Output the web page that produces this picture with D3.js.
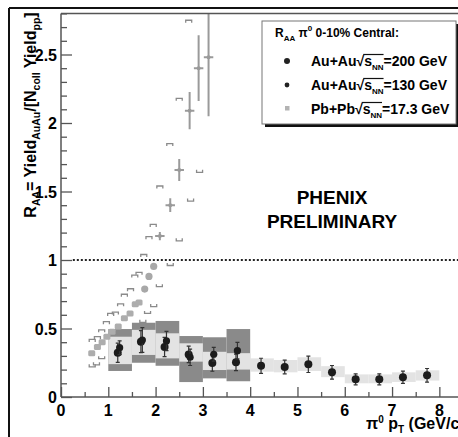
<!DOCTYPE html>
<html>
<head>
<meta charset="utf-8">
<script src="https://cdn.jsdelivr.net/npm/d3@7"></script>
<style>
  body { margin: 0; background: #fff; }
  text { font-family: "Liberation Sans", Arial, sans-serif; font-weight: bold; }
</style>
</head>
<body>
<div id="chart"></div>
<script>
// data
var auau200X = [1.20, 1.69, 2.19, 2.70, 3.20, 3.70, 4.23, 4.73, 5.23, 5.73, 6.23, 6.73, 7.23, 7.74];
var auau200Y = [0.323, 0.404, 0.365, 0.311, 0.248, 0.253, 0.228, 0.219, 0.239, 0.180, 0.129, 0.129, 0.144, 0.158];
var auau200Err = [0.07, 0.08, 0.07, 0.06, 0.06, 0.06, 0.055, 0.05, 0.06, 0.05, 0.04, 0.04, 0.045, 0.05];
var auau200SysLo = [0.24, 0.307, 0.282, 0.258, 0.197, 0.20, 0.185, 0.18, 0.19, 0.145, 0.10, 0.10, 0.11, 0.12];
var auau200SysHi = [0.44, 0.49, 0.465, 0.392, 0.33, 0.32, 0.282, 0.27, 0.29, 0.225, 0.165, 0.165, 0.18, 0.195];

var auau130X = [1.24, 1.72, 2.23, 2.73, 3.23, 3.73];
var auau130Y = [0.360, 0.416, 0.409, 0.290, 0.312, 0.338];
var auau130Err = [0.05, 0.09, 0.07, 0.06, 0.05, 0.06];
var auau130SysLo = [0.19, 0.25, 0.228, 0.109, 0.136, 0.115];
var auau130SysHi = [0.496, 0.542, 0.555, 0.445, 0.436, 0.496];

var binEdges = [1, 1.5, 2, 2.5, 3, 3.5, 4, 4.5, 5, 5.5, 6, 6.5, 7, 7.5, 8];

var pbSquareX = [0.65, 0.77, 0.87, 0.97, 1.08, 1.21, 1.34, 1.46, 1.57, 1.65];
var pbSquareY = [0.32, 0.365, 0.40, 0.44, 0.477, 0.515, 0.574, 0.61, 0.677, 0.69];
var pbCircleX = [1.77, 1.86, 1.96];
var pbCircleY = [0.788, 0.88, 0.953];
var pbCrossX = [2.09, 2.31, 2.50, 2.72, 2.91, 3.12];
var pbCrossY = [1.175, 1.40, 1.657, 2.09, 2.40, 2.48];
var pbCrossErr = [0.03, 0.05, 0.08, 0.136, 0.24, 0.43];

var bracketUpX = [0.66, 0.77, 0.86, 0.96, 1.05, 1.15, 1.26, 1.34, 1.47, 1.56, 1.65, 1.75, 1.86, 1.95, 2.09, 2.30, 2.50, 2.70];
var bracketUpY = [0.42, 0.44, 0.49, 0.55, 0.61, 0.62, 0.68, 0.75, 0.79, 0.89, 0.91, 1.04, 1.17, 1.26, 1.54, 1.85, 2.18, 2.75];
var bracketLoX = [0.66, 0.75, 0.86, 1.73, 1.83, 1.96, 2.08, 2.31, 2.50, 2.74, 2.93];
var bracketLoY = [0.22, 0.235, 0.28, 0.545, 0.61, 0.66, 0.805, 0.96, 1.14, 1.43, 1.64];

var yMajor = [0, 0.5, 1, 1.5, 2, 2.5];
var xMajor = [0, 1, 2, 3, 4, 5, 6, 7, 8];

var svgWidth = 458, svgHeight = 437;

var svg = d3.select("#chart")
  .append("svg")
  .attr("width", svgWidth)
  .attr("height", svgHeight);

var x = d3.scaleLinear().domain([0, 8.5]).range([61, 463]);
var y = d3.scaleLinear().domain([0, 2.8]).range([397, 13.4]);

// outer picture border
svg.append("line").attr("x1", 9).attr("x2", 458).attr("y1", 8).attr("y2", 8)
  .attr("stroke", "#111").attr("stroke-width", 2);
svg.append("line").attr("x1", 9).attr("x2", 9).attr("y1", 8).attr("y2", 437)
  .attr("stroke", "#111").attr("stroke-width", 2);

svg.append("clipPath").attr("id", "plotclip")
  .append("rect").attr("x", 61).attr("y", 13.4).attr("width", 400).attr("height", 384);

var plot = svg.append("g").attr("clip-path", "url(#plotclip)");

// systematic boxes, 130 GeV dark then 200 GeV light
plot.selectAll(".sys130")
  .data(auau130Y)
  .enter()
  .append("rect")
  .attr("x", (d, i) => x(binEdges[i]))
  .attr("width", (d, i) => x(binEdges[i + 1]) - x(binEdges[i]))
  .attr("y", (d, i) => y(auau130SysHi[i]))
  .attr("height", (d, i) => y(auau130SysLo[i]) - y(auau130SysHi[i]))
  .attr("fill", "#8a8a8a");

plot.selectAll(".sys200")
  .data(auau200Y)
  .enter()
  .append("rect")
  .attr("x", (d, i) => x(binEdges[i]))
  .attr("width", (d, i) => x(binEdges[i + 1]) - x(binEdges[i]))
  .attr("y", (d, i) => y(auau200SysHi[i]))
  .attr("height", (d, i) => y(auau200SysLo[i]) - y(auau200SysHi[i]))
  .attr("fill", "#e3e3e3");

// dotted line at 1
plot.append("line")
  .attr("x1", x(0.25)).attr("x2", x(8.5))
  .attr("y1", y(1)).attr("y2", y(1))
  .attr("stroke", "#222").attr("stroke-width", 2.2)
  .attr("stroke-dasharray", "2,2");

// Pb+Pb brackets
plot.selectAll(".bup")
  .data(bracketUpX)
  .enter()
  .append("path")
  .attr("d", (d, i) => `M${x(d) - 3},${y(bracketUpY[i]) + 2.5}V${y(bracketUpY[i])}H${x(d) + 3}V${y(bracketUpY[i]) + 2.5}`)
  .attr("fill", "none").attr("stroke", "#8a8a8a").attr("stroke-width", 1.3);

plot.selectAll(".blo")
  .data(bracketLoX)
  .enter()
  .append("path")
  .attr("d", (d, i) => `M${x(d) - 3},${y(bracketLoY[i]) - 2.5}V${y(bracketLoY[i])}H${x(d) + 3}V${y(bracketLoY[i]) - 2.5}`)
  .attr("fill", "none").attr("stroke", "#8a8a8a").attr("stroke-width", 1.3);

// Pb+Pb points
plot.selectAll(".pbsq")
  .data(pbSquareX)
  .enter()
  .append("rect")
  .attr("x", d => x(d) - 3.5)
  .attr("y", (d, i) => y(pbSquareY[i]) - 3)
  .attr("width", 7).attr("height", 6).attr("rx", 1.5)
  .attr("fill", "#adadad");

plot.selectAll(".pbci")
  .data(pbCircleX)
  .enter()
  .append("circle")
  .attr("cx", d => x(d))
  .attr("cy", (d, i) => y(pbCircleY[i]))
  .attr("r", 3.6)
  .attr("fill", "#a8a8a8");

var crosses = plot.selectAll(".pbcross")
  .data(pbCrossX)
  .enter()
  .append("g")
  .attr("stroke", "#9a9a9a").attr("stroke-width", 2);
crosses.append("line")
  .attr("x1", d => x(d)).attr("x2", d => x(d))
  .attr("y1", (d, i) => y(pbCrossY[i] + pbCrossErr[i]))
  .attr("y2", (d, i) => y(pbCrossY[i] - pbCrossErr[i]));
crosses.append("line")
  .attr("x1", d => x(d - 0.1)).attr("x2", d => x(d + 0.1))
  .attr("y1", (d, i) => y(pbCrossY[i]))
  .attr("y2", (d, i) => y(pbCrossY[i]));
crosses.append("circle")
  .attr("cx", d => x(d))
  .attr("cy", (d, i) => y(pbCrossY[i]))
  .attr("r", 2).attr("fill", "#9a9a9a").attr("stroke", "none");

// Au+Au points with error bars
function drawPoints(xs, ys, errs, r) {
  var g = plot.append("g");
  var pts = g.selectAll("g")
    .data(xs)
    .enter()
    .append("g")
    .attr("stroke", "#333").attr("stroke-width", 1.2);
  pts.append("line")
    .attr("x1", d => x(d)).attr("x2", d => x(d))
    .attr("y1", (d, i) => y(ys[i] + errs[i]))
    .attr("y2", (d, i) => y(ys[i] - errs[i]));
  pts.append("line")
    .attr("x1", d => x(d) - 2).attr("x2", d => x(d) + 2)
    .attr("y1", (d, i) => y(ys[i] + errs[i]))
    .attr("y2", (d, i) => y(ys[i] + errs[i]));
  pts.append("line")
    .attr("x1", d => x(d) - 2).attr("x2", d => x(d) + 2)
    .attr("y1", (d, i) => y(ys[i] - errs[i]))
    .attr("y2", (d, i) => y(ys[i] - errs[i]));
  pts.append("circle")
    .attr("cx", d => x(d))
    .attr("cy", (d, i) => y(ys[i]))
    .attr("r", r)
    .attr("fill", "#1c1c1c").attr("stroke", "none");
}
drawPoints(auau200X, auau200Y, auau200Err, 4);
drawPoints(auau130X, auau130Y, auau130Err, 3.6);

// axes, ticks inside
var yAxis = d3.axisRight(y)
  .tickValues(d3.range(0, 2.81, 0.1))
  .tickSize(6)
  .tickFormat("");
var yG = svg.append("g").attr("transform", "translate(61,0)").call(yAxis);
yG.selectAll(".tick line")
  .attr("x2", d => yMajor.some(m => Math.abs(m - d) < 1e-6) ? 11 : 6);

var xAxis = d3.axisTop(x)
  .tickValues(d3.range(0, 8.51, 0.5))
  .tickSize(5)
  .tickFormat("");
var xG = svg.append("g").attr("transform", "translate(0,397)").call(xAxis);
xG.selectAll(".tick line")
  .attr("y2", d => xMajor.indexOf(d) >= 0 ? -10 : -5);

svg.selectAll(".domain").remove();
svg.selectAll(".tick line").attr("stroke", "#555").attr("stroke-width", 1.3);

svg.append("line").attr("x1", 61).attr("x2", 61).attr("y1", 13.4).attr("y2", 397)
  .attr("stroke", "#555").attr("stroke-width", 1.5);
svg.append("line").attr("x1", 61).attr("x2", 458).attr("y1", 397).attr("y2", 397)
  .attr("stroke", "#555").attr("stroke-width", 1.5);
svg.append("line").attr("x1", 61).attr("x2", 458).attr("y1", 13.4).attr("y2", 13.4)
  .attr("stroke", "#555").attr("stroke-width", 1.5);

// tick labels
svg.selectAll(".ylab")
  .data(yMajor)
  .enter()
  .append("text")
  .attr("x", 57)
  .attr("y", d => y(d) + 6)
  .attr("text-anchor", "end")
  .attr("font-size", 16)
  .text(d => d3.format("~g")(d));

svg.selectAll(".xlab")
  .data(xMajor)
  .enter()
  .append("text")
  .attr("x", d => x(d))
  .attr("y", 416)
  .attr("text-anchor", "middle")
  .attr("font-size", 16)
  .text(d => d);

function seq(t, parts) {
  var shift = 0;
  parts.forEach(function(p) {
    var want = p[1] === 1 ? 4 : p[1] === -1 ? -6 : 0;
    t.append("tspan")
      .attr("font-size", p[1] === 0 ? null : (p[2] || 11))
      .attr("dy", want - shift)
      .text(p[0]);
    shift = want;
  });
}

// axis titles
var yTitle = svg.append("text")
  .attr("transform", "translate(36,115) rotate(-90)")
  .attr("text-anchor", "middle")
  .attr("font-size", 16);
seq(yTitle, [["R", 0], ["AA", 1, 10.5], ["= Yield", 0], ["AuAu", 1, 10.5], ["/[N", 0], ["coll", 1, 10.5], [" Yield", 0], ["pp", 1, 10.5], ["]", 0]]);

var xTitle = svg.append("text")
  .attr("x", 366)
  .attr("y", 429)
  .attr("font-size", 16);
seq(xTitle, [["\u03c0", 0], ["0", -1, 10], [" p", 0], ["T", 1, 10], [" (GeV/c)", 0]]);

// PHENIX label
svg.append("text").attr("x", 332).attr("y", 204).attr("text-anchor", "middle")
  .attr("font-size", 19).text("PHENIX");
svg.append("text").attr("x", 332).attr("y", 228).attr("text-anchor", "middle")
  .attr("font-size", 19).text("PRELIMINARY");

// legend
var legendLabels = ["=200 GeV", "=130 GeV", "=17.3 GeV"];
var legendSystems = ["Au+Au", "Au+Au", "Pb+Pb"];
var legend = svg.append("g");
legend.append("rect").attr("x", 265).attr("y", 24).attr("width", 196).attr("height", 103)
  .attr("fill", "#111");
legend.append("rect").attr("x", 262).attr("y", 21).attr("width", 194).attr("height", 103)
  .attr("fill", "#fff").attr("stroke", "#777").attr("stroke-width", 1);

var head = legend.append("text").attr("x", 275).attr("y", 37).attr("font-size", 12);
seq(head, [["R", 0], ["AA", 1, 8], [" \u03c0", 0], ["0", -1, 8], [" 0-10% Central:", 0]]);

legend.append("circle").attr("cx", 287).attr("cy", 61).attr("r", 3).attr("fill", "#222");
legend.append("circle").attr("cx", 287).attr("cy", 85).attr("r", 2.4).attr("fill", "#222");
legend.append("rect").attr("x", 285).attr("y", 106).attr("width", 4.5).attr("height", 4.5).attr("fill", "#b3b3b3");

legendLabels.forEach(function(lab, i) {
  var ty = 66 + i * 24;
  var t = legend.append("text").attr("x", 311).attr("y", ty).attr("font-size", 14);
  seq(t, [[legendSystems[i], 0], ["\u221a", 0], ["s", 0], ["NN", 1, 8], [lab, 0]]);
  // overline of the root sign over s_NN
  var n = legendSystems[i].length;
  var node = t.node();
  var a = node.getExtentOfChar(n);
  var b = node.getExtentOfChar(n + 3);
  legend.append("line")
    .attr("x1", a.x + a.width - 1).attr("x2", b.x + b.width)
    .attr("y1", a.y + 1.5).attr("y2", a.y + 1.5)
    .attr("stroke", "#111").attr("stroke-width", 1.2);
});
</script>
</body>
</html>
